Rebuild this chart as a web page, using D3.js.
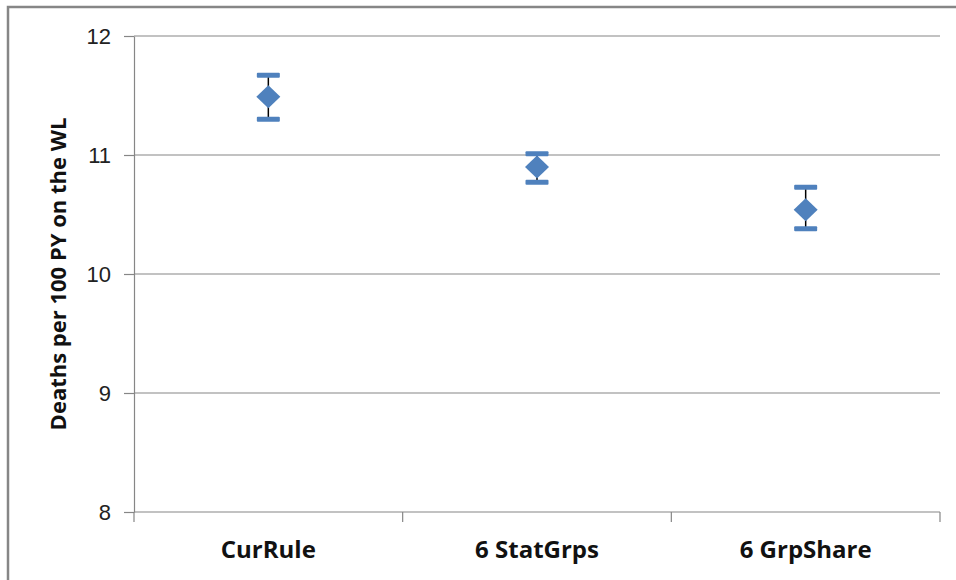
<!DOCTYPE html>
<html lang="en">
<head>
<meta charset="utf-8">
<title>Deaths per 100 PY</title>
<style>
  body, html { margin: 0; padding: 0; background: #fff; }
  svg { display: block; font-family: "Open Sans", "Liberation Sans", Arial, sans-serif; }
  .grid line { stroke: #868686; stroke-width: 1.2px; }
  .axis path, .axis line { stroke: #868686; stroke-width: 1.2px; }
  .axis text { fill: #222; }
</style>
</head>
<body>
<svg></svg>
<script src="https://d3js.org/d3.v7.min.js"></script>
<script>
  // data
  const categories = ["CurRule", "6 StatGrps", "6 GrpShare"];
  const means = [11.49, 10.90, 10.54];
  const upper = [11.67, 11.01, 10.73];
  const lower = [11.30, 10.77, 10.38];
  const yTicks = [8, 9, 10, 11, 12];

  const w = 956, h = 580;
  const m = { top: 36, right: 16, bottom: 68, left: 134 };

  const svg = d3.select("svg").attr("width", w).attr("height", h);

  // outer chart border (right and bottom fall off the picture)
  svg.append("rect")
    .attr("x", 8).attr("y", 7)
    .attr("width", 960).attr("height", 600)
    .attr("fill", "none")
    .attr("stroke", "#868686")
    .attr("stroke-width", 2.5);

  const x = d3.scaleBand()
    .domain(categories)
    .range([m.left, w - m.right])
    .paddingInner(0).paddingOuter(0);

  const y = d3.scaleLinear()
    .domain([8, 12])
    .range([h - m.bottom, m.top]);

  // horizontal gridlines
  svg.append("g").attr("class", "grid")
    .selectAll("line")
    .data(yTicks.slice(1))
    .enter().append("line")
    .attr("x1", m.left).attr("x2", w - m.right)
    .attr("y1", d => y(d)).attr("y2", d => y(d));

  // y axis
  const yAxis = svg.append("g").attr("class", "axis")
    .attr("transform", `translate(${m.left},0)`)
    .call(d3.axisLeft(y).tickValues(yTicks).tickFormat(d3.format("d"))
      .tickSize(10).tickPadding(13).tickSizeOuter(0));
  yAxis.selectAll("text").style("font-size", "22px");

  // x axis, ticks between categories
  const xAxis = svg.append("g").attr("class", "axis")
    .attr("transform", `translate(0,${h - m.bottom})`);
  xAxis.append("line")
    .attr("x1", m.left).attr("x2", w - m.right)
    .attr("y1", 0).attr("y2", 0);
  const bounds = categories.map(c => x(c)).concat([x(categories[categories.length - 1]) + x.bandwidth()]);
  xAxis.selectAll(".tk")
    .data(bounds)
    .enter().append("line")
    .attr("class", "tk")
    .attr("x1", d => d).attr("x2", d => d)
    .attr("y1", 0).attr("y2", 10);
  xAxis.selectAll("text")
    .data(categories)
    .enter().append("text")
    .attr("x", d => x(d) + x.bandwidth() / 2)
    .attr("y", 46)
    .attr("text-anchor", "middle")
    .style("font-size", "24px")
    .style("font-weight", "bold")
    .style("fill", "#111")
    .text(d => d);

  // y axis title
  svg.append("text")
    .attr("transform", `translate(66,${y(10)}) rotate(-90)`)
    .attr("text-anchor", "middle")
    .style("font-size", "22px")
    .style("font-weight", "bold")
    .style("fill", "#111")
    .text("Deaths per 100 PY on the WL");

  const blue = "#4F81BD";
  const pts = svg.append("g")
    .selectAll("g")
    .data(categories)
    .enter().append("g")
    .attr("transform", d => `translate(${x(d) + x.bandwidth() / 2},0)`);

  // error bar stem
  pts.append("line")
    .attr("x1", 0).attr("x2", 0)
    .attr("y1", (d, i) => y(upper[i]))
    .attr("y2", (d, i) => y(lower[i]))
    .attr("stroke", "#000")
    .attr("stroke-width", 1.5);

  // caps
  [upper, lower].forEach(arr => {
    pts.append("rect")
      .attr("x", -11.5).attr("width", 23)
      .attr("y", (d, i) => y(arr[i]) - 2.5).attr("height", 5)
      .attr("rx", 1)
      .attr("fill", blue);
  });

  // diamond markers
  pts.append("path")
    .attr("d", "M0,-11.5L12,0L0,11.5L-12,0Z")
    .attr("transform", (d, i) => `translate(0,${y(means[i])})`)
    .attr("fill", blue);
</script>
</body>
</html>
